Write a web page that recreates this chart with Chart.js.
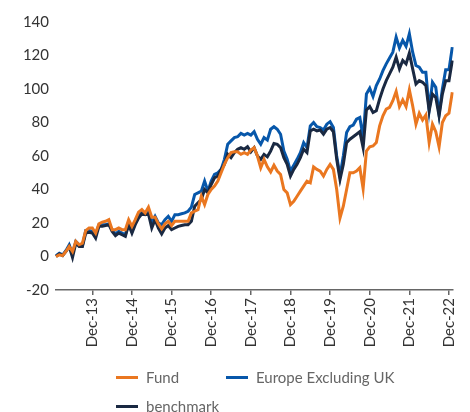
<!DOCTYPE html>
<html>
<head>
<meta charset="utf-8">
<script src="https://cdn.jsdelivr.net/npm/chart.js@4.4.1/dist/chart.umd.min.js"></script>
<style>
  html, body { margin: 0; padding: 0; background: #fff; }
  #wrap { position: relative; width: 470px; height: 412px; }
  #legend {
    position: absolute; left: 116px; top: 367px;
    display: grid; grid-template-columns: 110px auto; row-gap: 9px;
    font-family: Lato, sans-serif; font-size: 15px; color: #666;
  }
  .item { display: flex; align-items: center; height: 20px; white-space: nowrap; }
  .swatch { width: 22px; height: 3px; margin-right: 8px; }
</style>
</head>
<body>
<div id="wrap">
  <canvas id="chart" width="470" height="412"></canvas>
  <div id="legend"></div>
</div>
<script>
// month labels Jan-13 .. Jan-23
const months = ['Jan', 'Feb', 'Mar', 'Apr', 'May', 'Jun', 'Jul', 'Aug', 'Sep', 'Oct', 'Nov', 'Dec'];
const labels = [];
for (let y = 13; y <= 22; y++) months.forEach(m => labels.push(`${m}-${y}`));
labels.push('Jan-23');

const seriesNames = ['Fund', 'Europe Excluding UK', 'benchmark'];
const seriesColors = ['#EA7720', '#0757AA', '#1A2942'];

const fund = [
  0, 1, 0.5, 3, 6, 3, 9, 7, 8, 15.5, 17, 17,
  14, 19.5, 20.5, 21, 22, 16, 16, 17, 16, 16, 22, 18,
  22, 26.5, 28, 26, 29.5, 23.5, 23.5, 19.5, 16.5, 19.5, 21, 18.5,
  21, 21, 21, 21, 21, 26, 27, 28, 36, 31, 37, 40,
  42, 45, 50, 55, 59, 62, 62.5, 62.5, 61, 62, 61, 63.5,
  65, 60, 53, 58, 53.5, 50.5, 54.5, 51, 49, 40, 38, 31,
  33, 36, 39, 42, 45, 44, 53.5, 52, 51, 48, 52, 55,
  52, 40, 23, 30, 40, 50, 50, 51, 53, 40.5, 63, 65.5,
  66, 68, 78, 84, 88, 89, 93, 98.5, 89.5, 93.5, 89.5, 99.5,
  90, 79, 85.5, 81.5, 84.5, 68, 79, 74.5, 65.5, 80, 84, 85.5,
  98
];
const europe = [
  0.5, 2, 1, 3.5, 7, 1.5, 9, 7, 6.5, 15.5, 15.5, 15,
  13, 19, 19, 19, 19.5, 16, 13.5, 15, 14, 13, 20, 15,
  20, 24, 26.5, 26, 26.5, 20, 24, 20, 19, 22, 24, 21,
  25, 25, 25.5, 26, 27, 29.5, 37, 38, 39, 45, 39, 45,
  49, 50, 52, 58, 67, 69, 71, 71.5, 73.5, 72.5, 73.5, 72.5,
  74.5, 70, 67, 71, 69.5, 76, 77.5, 76, 73, 63, 58, 51,
  54.5, 58, 62, 68, 65, 78, 80, 77.5, 77, 75.5, 79, 80.5,
  77, 60, 48, 60, 74, 77.5, 78.5, 82, 83, 71, 97, 100.5,
  95.5, 102, 106, 111, 115, 118.5, 122, 131, 124.5, 129, 125.5, 133,
  122, 114, 113, 110, 110, 87.5, 104, 101, 85, 100, 111.5, 111.5,
  125
];
const benchmark = [
  0, 1.5, 0.5, 3, 6, -0.5, 8, 6, 6, 14, 14.5, 14,
  11, 18, 18, 18.5, 19, 15, 12.5, 14, 13, 12, 19, 14,
  19, 23, 25.5, 25, 25.5, 17, 22, 17, 13.5, 17, 18.5, 16,
  17, 18, 18.5, 19, 19, 21, 30, 32, 34, 40, 38, 43,
  47, 48, 52, 55, 61, 59, 62, 64, 65, 64, 65.5, 62.5,
  65, 60, 58, 61, 59.5, 63, 67.5, 67, 65, 59, 55, 48,
  52, 55, 59, 64, 62, 75, 76, 75, 75.5, 73, 76, 77,
  74.5, 58, 46, 55, 68, 70, 71.5, 73, 74.5, 65, 87.5, 89.5,
  86, 87, 94, 100, 105, 109, 113, 119, 112, 117, 115, 121.5,
  112, 103, 105, 104, 102, 87, 97, 95, 84, 97, 105, 105,
  117
];

const yTicks = [-20, 0, 20, 40, 60, 80, 100, 120, 140];
const font = { family: 'Lato, sans-serif', size: 15 };

const values = [fund, europe, benchmark];
const drawOrder = [0, 2, 1];

new Chart(document.getElementById('chart'), {
  type: 'line',
  data: {
    labels,
    datasets: seriesNames.map((name, i) => ({
      label: name,
      data: values[i],
      borderColor: seriesColors[i],
      backgroundColor: seriesColors[i],
      borderWidth: 3,
      pointRadius: 0,
      tension: 0,
      fill: false,
      order: drawOrder[i]
    }))
  },
  options: {
    responsive: false,
    animation: false,
    layout: { padding: { left: 16, right: 2, top: 22, bottom: 62 } },
    plugins: { legend: { display: false }, tooltip: { enabled: false } },
    scales: {
      x: {
        offset: false,
        afterFit: s => { s.height = 60; },
        border: { display: true, color: '#666', width: 1.5 },
        grid: { drawOnChartArea: false, drawTicks: true, tickLength: 5, color: '#666', lineWidth: 1.5 },
        ticks: {
          autoSkip: false, maxRotation: 90, minRotation: 90, padding: 3,
          color: '#333', font,
          callback: (v, i) => labels[i].startsWith('Dec') ? labels[i] : null
        }
      },
      y: {
        min: yTicks[0], max: yTicks[yTicks.length - 1],
        afterFit: s => { s.width = 40; },
        afterBuildTicks: s => { s.ticks = yTicks.map(v => ({ value: v })); },
        border: { display: false },
        grid: { display: false, drawTicks: false },
        ticks: { color: '#333', font, padding: 7 }
      }
    }
  }
});

// legend as html, two columns like the original
const legend = document.getElementById('legend');
seriesNames.forEach((name, i) => {
  const item = document.createElement('div');
  item.className = 'item';
  item.innerHTML = `<span class="swatch" style="background:${seriesColors[i]}"></span>${name}`;
  legend.appendChild(item);
});
</script>
</body>
</html>
